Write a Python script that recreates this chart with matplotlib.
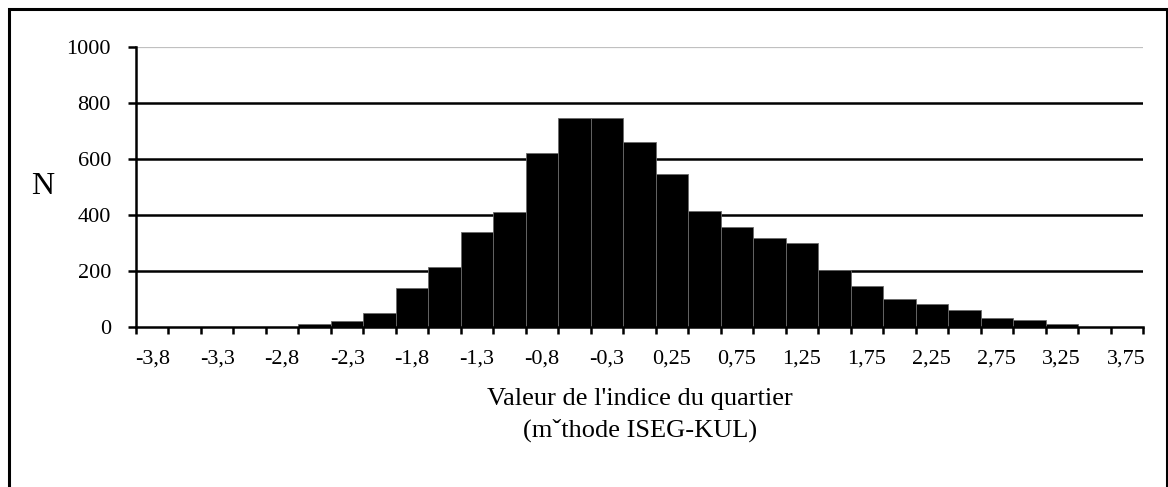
import matplotlib.pyplot as plt
from matplotlib.patches import Rectangle

# histogram counts per class (31 classes)
counts = [0, 0, 0, 0, 0, 11, 23, 51, 138, 213, 338, 412, 623, 747, 747, 661,
          547, 414, 356, 318, 299, 204, 147, 100, 81, 61, 33, 24, 12, 0, 0]
# only every second class carries a label on the axis
shown_labels = ["-3,8", "-3,3", "-2,8", "-2,3", "-1,8", "-1,3", "-0,8", "-0,3",
                "0,25", "0,75", "1,25", "1,75", "2,25", "2,75", "3,25", "3,75"]
y_ticks = [0, 200, 400, 600, 800, 1000]

plt.rcParams["font.family"] = ["Liberation Serif", "DejaVu Serif"]

W, H = 1168, 487
fig = plt.figure(figsize=(W / 100, H / 100), dpi=100)
ax = fig.add_axes([136 / W, 1 - 327 / H, (1143 - 136) / W, (327 - 47) / H])

n = len(counts)
x = list(range(n))
ax.bar(x, counts, width=1.0, color="black", edgecolor="#6a6a6a",
       linewidth=0.6, zorder=3)

ax.set_xlim(-0.5, n - 0.5)
ax.set_ylim(0, 1000)

# gridlines: black for inner values, light grey at the top
for v in y_ticks[1:-1]:
    ax.axhline(v, color="black", linewidth=1.8, zorder=1)
ax.axhline(1000, color="#c0c0c0", linewidth=0.9, zorder=1)

ax.set_yticks(y_ticks)
ax.set_yticklabels([str(v) for v in y_ticks])
ax.set_xticks(x[::2])
ax.set_xticklabels(shown_labels)
ax.set_xticks([i - 0.5 for i in range(n + 1)], minor=True)

ax.tick_params(axis="y", length=6, width=1.8, direction="out", pad=12,
               labelsize=16, colors="black")
ax.tick_params(axis="x", which="major", length=0, pad=16, labelsize=16)
ax.tick_params(axis="x", which="minor", length=5, width=1.8, direction="out")

for side in ["top", "right"]:
    ax.spines[side].set_visible(False)
for side in ["left", "bottom"]:
    ax.spines[side].set_linewidth(1.8)
    ax.spines[side].set_zorder(4)

fig.text(43 / W, 1 - 187 / H, "N", fontsize=23, ha="center", va="center")
fig.text(640 / W, 1 - 399 / H, "Valeur de l'indice du quartier",
         fontsize=19, ha="center", va="center")
fig.text(640 / W, 1 - 430 / H, "(m\u02c7thode ISEG-KUL)",
         fontsize=19, ha="center", va="center")

# outer frame, open at the bottom
fig.patches.append(Rectangle((8.7 / W, -0.2), (1166.5 - 8.7) / W, 1.2 - 9 / H,
                             transform=fig.transFigure, fill=False,
                             edgecolor="black", linewidth=2.2, clip_on=False))

fig.savefig("out.png", dpi=100, facecolor="white")
